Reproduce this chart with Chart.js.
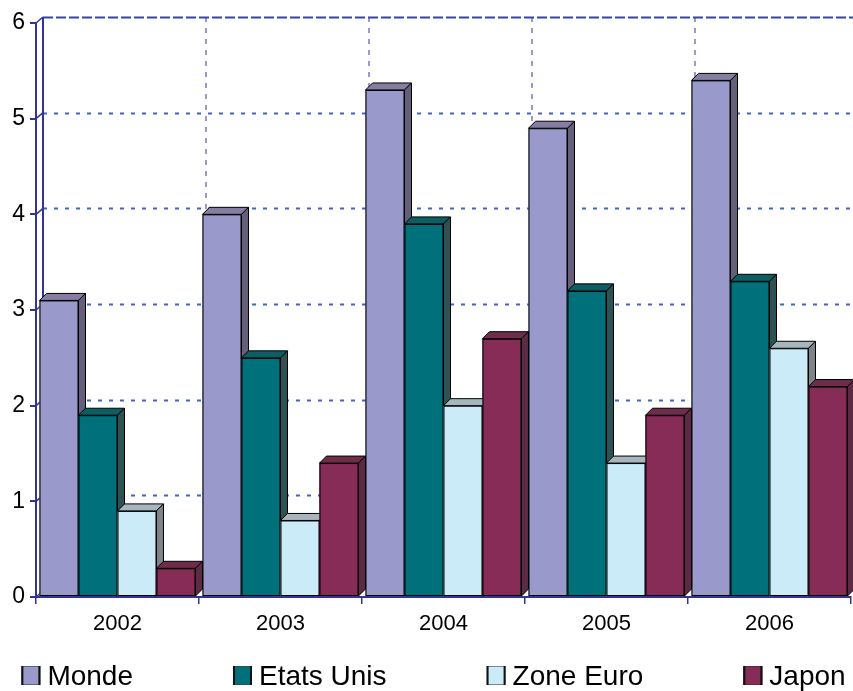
<!DOCTYPE html>
<html>
<head>
<meta charset="utf-8">
<script src="https://cdn.jsdelivr.net/npm/chart.js@4.4.1/dist/chart.umd.min.js"></script>
<style>
  html, body { margin: 0; padding: 0; background: #fff; }
  #wrap { width: 853px; height: 691px; position: relative; }
</style>
</head>
<body>
<div id="wrap"><canvas id="chart"></canvas></div>
<script>
// Growth by year and zone
const years = ['2002', '2003', '2004', '2005', '2006'];
const monde = [3.1, 4.0, 5.3, 4.9, 5.4];
const etatsUnis = [1.9, 2.5, 3.9, 3.2, 3.3];
const zoneEuro = [0.9, 0.8, 2.0, 1.4, 2.6];
const japon = [0.3, 1.4, 2.7, 1.9, 2.2];
const seriesNames = ['Monde', 'Etats Unis', 'Zone Euro', 'Japon'];
const yTicks = [0, 1, 2, 3, 4, 5, 6];

const FONT = '"Liberation Sans", Arial, Helvetica, sans-serif';
const AXIS_BLUE = '#333399';

// front / top / side shades for each series
const palette = [
  { front: '#9999CC', top: '#857EA0', side: '#665F7C' },
  { front: '#00707A', top: '#0C5E62', side: '#2C5253' },
  { front: '#CCEBF8', top: '#A6B6BC', side: '#7E8488' },
  { front: '#862C56', top: '#6E2E4B', side: '#5D2A43' }
];

// depth of the bars and of the back wall
const BAR_DX = 7, BAR_DY = 7;
const WALL_DX = 7, WALL_DY = 6;

// back wall: dotted grid lines and the wall edge
const wallPlugin = {
  id: 'wall',
  beforeDatasetsDraw(chart) {
    const { ctx, chartArea: a, scales: { x, y } } = chart;
    ctx.save();
    // vertical dotted lines at category boundaries
    ctx.strokeStyle = '#9D99CF';
    ctx.lineWidth = 2;
    ctx.setLineDash([5, 6]);
    for (let i = 1; i < years.length; i++) {
      const bx = (x.getPixelForValue(i - 1) + x.getPixelForValue(i)) / 2 + WALL_DX;
      ctx.beginPath();
      ctx.moveTo(bx, a.top - WALL_DY);
      ctx.lineTo(bx, a.bottom - WALL_DY);
      ctx.stroke();
    }
    // horizontal dotted lines
    yTicks.forEach(v => {
      if (v === 0) return;
      const gy = Math.round(y.getPixelForValue(v) - WALL_DY) + 0.5;
      const isTop = v === yTicks[yTicks.length - 1];
      ctx.strokeStyle = isTop ? '#3545A8' : '#3F66B8';
      ctx.setLineDash(isTop ? [10, 3] : [4, 7]);
      ctx.lineWidth = 2;
      ctx.beginPath();
      ctx.moveTo(a.left + WALL_DX, gy);
      ctx.lineTo(chart.width, gy);
      ctx.stroke();
    });
    // back edge of the wall
    ctx.setLineDash([]);
    ctx.strokeStyle = AXIS_BLUE;
    ctx.lineWidth = 2;
    ctx.beginPath();
    ctx.moveTo(a.left + WALL_DX, a.top - WALL_DY);
    ctx.lineTo(a.left + WALL_DX, a.bottom - WALL_DY);
    ctx.stroke();
    // small connectors from front axis to the wall
    ctx.lineWidth = 1.5;
    yTicks.forEach(v => {
      const ty = y.getPixelForValue(v);
      ctx.beginPath();
      ctx.moveTo(a.left, ty);
      ctx.lineTo(a.left + WALL_DX, ty - WALL_DY);
      ctx.stroke();
    });
    ctx.restore();
  }
};

// bars with top and side faces, drawn series by series
const bar3dPlugin = {
  id: 'bar3d',
  afterDatasetsDraw(chart) {
    const ctx = chart.ctx;
    ctx.save();
    ctx.lineWidth = 1;
    ctx.strokeStyle = '#000';
    ctx.lineJoin = 'miter';
    chart.data.datasets.forEach((ds, di) => {
      const meta = chart.getDatasetMeta(di);
      const col = palette[di];
      meta.data.forEach(el => {
        const { x, y, base, width } = el.getProps(['x', 'y', 'base', 'width'], true);
        const l = x - width / 2, r = x + width / 2;
        // front
        ctx.fillStyle = col.front;
        ctx.fillRect(l, y, r - l, base - y);
        ctx.strokeRect(l + 0.5, y + 0.5, r - l - 1, base - y - 1);
        // top
        ctx.fillStyle = col.top;
        ctx.beginPath();
        ctx.moveTo(l, y);
        ctx.lineTo(l + BAR_DX, y - BAR_DY);
        ctx.lineTo(r + BAR_DX, y - BAR_DY);
        ctx.lineTo(r, y);
        ctx.closePath();
        ctx.fill();
        ctx.stroke();
        // side
        ctx.fillStyle = col.side;
        ctx.beginPath();
        ctx.moveTo(r, y);
        ctx.lineTo(r + BAR_DX, y - BAR_DY);
        ctx.lineTo(r + BAR_DX, base - BAR_DY);
        ctx.lineTo(r, base);
        ctx.closePath();
        ctx.fill();
        ctx.stroke();
      });
    });
    ctx.restore();
  }
};

// legend row under the axis
const legendPlugin = {
  id: 'bottomLegend',
  afterDraw(chart) {
    const ctx = chart.ctx;
    ctx.save();
    ctx.font = '28px ' + FONT;
    ctx.textBaseline = 'alphabetic';
    const box = 19, textGap = 7, itemGap = 100;
    const items = chart.data.datasets.map((d, i) => ({
      label: d.label,
      col: palette[i],
      w: box + textGap + ctx.measureText(d.label).width
    }));
    const total = items.reduce((s, it) => s + it.w, 0) + itemGap * (items.length - 1);
    let x = chart.width / 2 + 7 - total / 2;
    const baseY = 685;
    items.forEach(it => {
      ctx.fillStyle = it.col.front;
      ctx.fillRect(x, baseY - 19, box, box);
      ctx.strokeStyle = it.col.side;
      ctx.lineWidth = 1;
      ctx.strokeRect(x + 0.5, baseY - 18.5, box - 1, box - 1);
      ctx.fillStyle = '#111';
      ctx.fillRect(x, baseY - 19, 2, box);
      ctx.fillRect(x + box - 2, baseY - 19, 2, box);
      ctx.fillStyle = '#000';
      ctx.fillText(it.label, x + box + textGap, baseY);
      x += it.w + itemGap;
    });
    ctx.restore();
  }
};

const seriesValues = [monde, etatsUnis, zoneEuro, japon];

new Chart(document.getElementById('chart'), {
  type: 'bar',
  data: {
    labels: years,
    datasets: seriesNames.map((name, i) => ({
      label: name,
      data: seriesValues[i],
      backgroundColor: palette[i].front,
      borderColor: '#000',
      borderWidth: 1,
      categoryPercentage: 0.957,
      barPercentage: 1.0
    }))
  },
  options: {
    responsive: true,
    maintainAspectRatio: false,
    animation: false,
    layout: { padding: { left: 0, top: 23, right: 2, bottom: 54 } },
    plugins: {
      legend: { display: false },
      tooltip: { enabled: false }
    },
    scales: {
      x: {
        grid: {
          offset: true,
          drawOnChartArea: false,
          drawTicks: true,
          tickLength: 7,
          color: AXIS_BLUE,
          lineWidth: 1.5
        },
        border: { display: true, color: AXIS_BLUE, width: 2 },
        ticks: { font: { size: 22, family: FONT }, color: '#000', padding: 7 },
        afterFit(s) { s.height = 40; }
      },
      y: {
        min: 0,
        max: 6,
        afterBuildTicks(s) { s.ticks = yTicks.map(v => ({ value: v })); },
        grid: {
          drawOnChartArea: false,
          drawTicks: true,
          tickLength: 6,
          color: AXIS_BLUE,
          lineWidth: 2
        },
        border: { display: true, color: AXIS_BLUE, width: 2 },
        ticks: { font: { size: 23, family: FONT }, color: '#000', padding: 5 },
        afterFit(s) { s.width = 36; }
      }
    }
  },
  plugins: [wallPlugin, bar3dPlugin, legendPlugin]
});
</script>
</body>
</html>
